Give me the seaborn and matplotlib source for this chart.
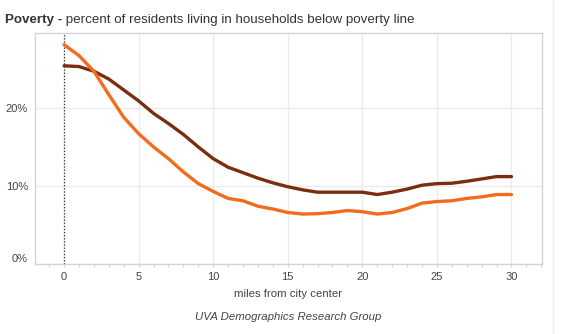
import matplotlib
matplotlib.use("Agg")
import matplotlib.pyplot as plt
import seaborn as sns
import pandas as pd
from matplotlib.ticker import FuncFormatter, MultipleLocator
from matplotlib.lines import Line2D

miles = list(range(0, 31))
poverty_a = [25.4, 25.3, 24.7, 23.7, 22.3, 20.9, 19.3, 18.0, 16.6, 15.0,
             13.5, 12.4, 11.7, 11.0, 10.4, 9.9, 9.5, 9.2, 9.2, 9.2,
             9.2, 8.9, 9.2, 9.6, 10.1, 10.3, 10.35, 10.6, 10.9, 11.2, 11.2]
poverty_b = [28.1, 26.7, 24.7, 21.7, 18.8, 16.7, 15.0, 13.5, 11.8, 10.3,
             9.3, 8.4, 8.1, 7.4, 7.05, 6.6, 6.4, 6.45, 6.6, 6.85,
             6.7, 6.4, 6.6, 7.1, 7.8, 8.0, 8.1, 8.4, 8.6, 8.9, 8.9]
series_names = ["Series A", "Series B"]
x_ticks = [0, 5, 10, 15, 20, 25, 30]
y_ticks = [0, 10, 20]

df = pd.DataFrame({
    "miles": miles * 2,
    "poverty": poverty_a + poverty_b,
    "series": [series_names[0]] * len(miles) + [series_names[1]] * len(miles),
})

sns.set_theme(style="white")
plt.rcParams["font.family"] = ["Liberation Sans", "DejaVu Sans"]

fig = plt.figure(figsize=(5.62, 3.34), dpi=100)
ax = fig.add_axes([35 / 562, 1 - 264 / 334, (542 - 35) / 562, (264 - 33) / 334])

palette = {series_names[0]: "#7a2d0f", series_names[1]: "#f36c1d"}
sns.lineplot(data=df, x="miles", y="poverty", hue="series", palette=palette,
             linewidth=2.4, ax=ax, legend=False, zorder=3)

ax.set_xlim(-1.95, 32.05)
ax.set_ylim(0, 29.6)

ax.axvline(0, color="#333333", linestyle=(0, (1, 1.5)), linewidth=0.9, zorder=2)

ax.set_xticks(x_ticks)
ax.xaxis.set_minor_locator(MultipleLocator(1))
ax.set_yticks(y_ticks)
ax.yaxis.set_major_formatter(FuncFormatter(lambda v, p: f"{v:.0f}%"))
ax.grid(True, which="major", color="#ebebeb", linewidth=1)
ax.set_axisbelow(True)

for s in ax.spines.values():
    s.set_color("#d4d4d4")
    s.set_linewidth(1)

ax.tick_params(axis="x", which="minor", length=2.5, width=0.8, color="#d0d0d0", bottom=True)
ax.tick_params(axis="x", which="major", bottom=True, length=2.5, width=0.8, color="#d0d0d0",
               pad=3.5, labelsize=8, labelcolor="#444444")
ax.tick_params(axis="y", which="both", length=0, pad=5, labelsize=8, labelcolor="#444444")

fig.canvas.draw()
lbl0 = ax.get_yticklabels()[0]
lbl0.set_va("bottom")

ax.set_xlabel("miles from city center", fontsize=8.2, color="#444444", labelpad=4.5)
ax.set_ylabel("")

fig.text(288 / 562, 1 - 317.5 / 334, "UVA Demographics Research Group", fontsize=8.2,
         style="italic", color="#444444", ha="center", va="center")

t1 = fig.text(5 / 562, 1 - 20 / 334, "Poverty -", fontsize=9.6, fontweight="bold",
              color="#333333", ha="left", va="center")
fig.canvas.draw()
bb = t1.get_window_extent()
fig.text(bb.x1 / fig.bbox.width, 1 - 20 / 334, " percent of residents living in households below poverty line",
         fontsize=9.6, color="#333333", ha="left", va="center")

fig.add_artist(Line2D([553 / 562, 553 / 562], [0, 1], color="#ececec", linewidth=1,
                      transform=fig.transFigure))

fig.savefig("out.png", dpi=100)
